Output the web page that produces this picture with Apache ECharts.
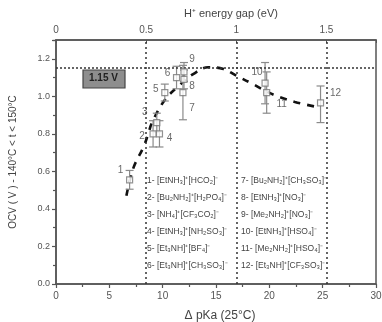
<!DOCTYPE html>
<html><head><meta charset="utf-8">
<script src="https://cdn.jsdelivr.net/npm/echarts@6/dist/echarts.min.js"></script>
<style>html,body{margin:0;padding:0;background:#fff}#c{width:382px;height:322px}</style>
</head><body><div id="c"></div>
<script>
// ---- data ----
const pointIds  = ['1','2','3','4','5','6','7','8','9','10','11','12'];
const pKa       = [6.9, 9.1, 9.45, 9.7, 10.2, 11.3, 11.9, 12.0, 12.0, 19.6, 19.75, 24.8];
const ocv       = [0.555, 0.80, 0.86, 0.80, 1.02, 1.10, 1.02, 1.09, 1.13, 1.07, 1.02, 0.965];
const errLow    = [0.505, 0.73, 0.81, 0.73, 0.975, 1.04, 0.875, 1.04, 1.08, 0.96, 0.91, 0.86];
const errHigh   = [0.605, 0.87, 0.91, 0.87, 1.065, 1.16, 1.165, 1.14, 1.18, 1.18, 1.13, 1.055];
const fitPKa    = [6.6, 7.25, 8.2, 8.65, 9.0, 10.2, 11.6, 12.9, 14.3, 15.7, 16.9, 18.3, 19.75, 21.0, 22.4, 24.3];
const fitOcv    = [0.47, 0.617, 0.73, 0.80, 0.86, 0.98, 1.06, 1.12, 1.155, 1.145, 1.11, 1.07, 1.025, 0.995, 0.97, 0.945];
const refOcv    = 1.15;
const energyLines = [0.5, 1, 1.5];
const xTicks    = ['0','5','10','15','20','25','30'];
const yTicks    = ['0.0','0.2','0.4','0.6','0.8','1.0','1.2'];
const legendCol1 = ['1- [EtNH₃]⁺[HCO₂]⁻','2- [Bu₂NH₂]⁺[H₂PO₄]⁻','3- [NH₄]⁺[CF₃CO₂]⁻','4- [EtNH₃]⁺[NH₂SO₃]⁻','5- [Et₃NH]⁺[BF₄]⁻','6- [Et₃NH]⁺[CH₃SO₃]⁻'];
const legendCol2 = ['7- [Bu₂NH₂]⁺[CH₃SO₃]⁻','8- [EtNH₃]⁺[NO₃]⁻','9- [Me₂NH₂]⁺[NO₃]⁻','10- [EtNH₃]⁺[HSO₄]⁻','11- [Me₂NH₂]⁺[HSO₄]⁻','12- [Et₃NH]⁺[CF₃SO₃]⁻'];
const VperPKa = 0.05916; // 2.303RT/F at 25 °C (top axis conversion)

// ---- presentation ----
const labelOffsets = [[-9,-10],[-11,2],[-12,-10],[10,4],[-9,-3],[-9,-4],[9,16],[8,7],[8,-13],[-8,-11],[15,12],[15,-10]];
const font = 'Liberation Sans, Arial, sans-serif';
const grey = '#555';

const chart = echarts.init(document.getElementById('c'), null, {renderer:'canvas'});

const scatterData = pKa.map((x,i)=>({value:[x,ocv[i]], label:{show:true, formatter:pointIds[i], offset:labelOffsets[i]}}));
const errData = pKa.map((x,i)=>[x, errLow[i], errHigh[i]]);

const legendGraphics = [];
legendCol1.forEach((t,i)=>legendGraphics.push({type:'text', left:147, top:176+17*i, style:{text:t, font:'8.5px '+font, fill:'#444'}}));
legendCol2.forEach((t,i)=>legendGraphics.push({type:'text', left:241, top:176+17*i, style:{text:t, font:'8.5px '+font, fill:'#444'}}));

const option = {
  animation:false,
  backgroundColor:'#fff',
  grid:{left:56, right:6, top:40, bottom:38, outerBoundsMode:'none', containLabel:false, show:true, borderColor:'#555', borderWidth:1.5, backgroundColor:'transparent'},
  xAxis:[{
    type:'value', min:0, max:30, interval:5, position:'bottom',
    name:'Δ pKa (25°C)', nameLocation:'middle', nameGap:26,
    nameTextStyle:{fontFamily:font, fontSize:12, color:'#444', padding:[0,0,0,8]},
    axisLine:{show:true, onZero:false, lineStyle:{color:'#555', width:1.5}},
    axisTick:{show:true, inside:false, length:4, lineStyle:{color:'#555', width:1.2}},
    minorTick:{show:true, splitNumber:2, length:3, lineStyle:{color:'#555', width:1.2}},
    axisLabel:{fontFamily:font, fontSize:10, color:grey, margin:7, formatter:v=>xTicks[Math.round(v/5)]},
    splitLine:{show:false}
  },{
    type:'value', min:0, max:30*VperPKa, interval:0.5, position:'top',
    axisLine:{show:true, onZero:false, lineStyle:{color:'#555', width:1.5}},
    axisTick:{show:true, inside:true, length:3, lineStyle:{color:'#555'}},
    axisLabel:{fontFamily:font, fontSize:10, color:grey, margin:5, formatter:v=> v>1.6?'':String(v)},
    splitLine:{show:false}
  }],
  yAxis:[{
    type:'value', min:0, max:1.3, interval:0.2,
    name:'OCV ( V ) - 140°C < t < 150°C', nameLocation:'middle', nameGap:38, nameRotate:90,
    nameTextStyle:{fontFamily:font, fontSize:10, color:'#444'},
    axisLine:{show:true, onZero:false, lineStyle:{color:'#555', width:1.5}},
    axisTick:{show:true, length:4, lineStyle:{color:'#555', width:1.2}},
    minorTick:{show:true, splitNumber:2, length:3, lineStyle:{color:'#555', width:1.2}},
    axisLabel:{fontFamily:font, fontSize:9, color:grey, margin:6, formatter:v=> v>1.25?'':yTicks[Math.round(v/0.2)]},
    splitLine:{show:false}
  }],
  graphic:[
    {type:'text', left:184, top:8, style:{text:'H⁺ energy gap (eV)', font:'11px '+font, fill:'#444'}},
    {type:'rect', shape:{x:83, y:70, width:42, height:18}, style:{fill:'#8e8e8e', stroke:'#444', lineWidth:1.2}},
    {type:'text', left:89, top:73, style:{text:'1.15 V', font:'bold 10px '+font, fill:'#222'}}
  ].concat(legendGraphics),
  series:[
    {
      type:'line', xAxisIndex:1, yAxisIndex:0, data:[], silent:true,
      markLine:{symbol:'none', silent:true, label:{show:false},
        lineStyle:{type:[2,3], color:'#333', width:1.5},
        data:energyLines.map(v=>({xAxis:v}))}
    },
    {
      type:'line', data:[], silent:true,
      markLine:{symbol:'none', silent:true, label:{show:false},
        lineStyle:{type:[2,2], color:'#333', width:1.5},
        data:[{yAxis:refOcv}]}
    },
    {
      type:'line', smooth:0.4, symbol:'none', data:fitPKa.map((x,i)=>[x,fitOcv[i]]),
      lineStyle:{color:'#111', width:2.6, type:[7,7]}, z:3
    },
    {
      type:'custom', data:errData, z:4,
      renderItem:(params, api)=>{
        const x=api.value(0), lo=api.value(1), hi=api.value(2);
        const a=api.coord([x,lo]), b=api.coord([x,hi]);
        const s={stroke:'#8a8a8a', lineWidth:1.2};
        return {type:'group', children:[
          {type:'line', shape:{x1:a[0],y1:a[1],x2:b[0],y2:b[1]}, style:s},
          {type:'line', shape:{x1:a[0]-4,y1:a[1],x2:a[0]+4,y2:a[1]}, style:s},
          {type:'line', shape:{x1:b[0]-4,y1:b[1],x2:b[0]+4,y2:b[1]}, style:s}
        ]};
      }
    },
    {
      type:'scatter', data:scatterData, symbol:'rect', symbolSize:6, z:5,
      itemStyle:{color:'#fff', borderColor:'#777', borderWidth:1.2},
      label:{position:'inside', fontFamily:font, fontSize:10, color:'#444'}
    }
  ]
};
chart.setOption(option);
</script></body></html>
